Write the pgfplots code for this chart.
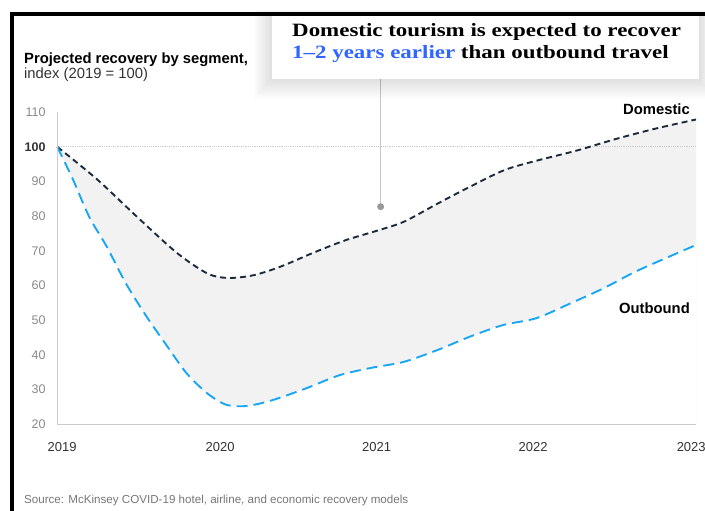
\documentclass[border=0pt]{standalone}
\usepackage{pgfplots}
\pgfplotsset{compat=1.18}
\usepackage{fontspec}
\setmainfont{Liberation Sans}
\newfontfamily\annfont[FakeStretch=1.22]{Liberation Serif}
\definecolor{domcol}{HTML}{1C2B3C}
\definecolor{outcol}{HTML}{19A7F5}
\definecolor{fillcol}{HTML}{F2F2F2}
\definecolor{axcol}{HTML}{CCCCCC}
\definecolor{tickgray}{HTML}{8A8A8A}
\definecolor{labdark}{HTML}{333333}
\definecolor{annblue}{HTML}{2F66FF}
\definecolor{srcgray}{HTML}{777777}

\pgfplotstableread{
x y
2019 100
2019.25 90.6
2019.5 79.8
2019.75 69.4
2019.94 63.5
2020.07 62.2
2020.23 63.0
2020.4 65.5
2020.6 69.4
2020.8 73.0
2021.0 75.8
2021.17 78.4
2021.38 83.6
2021.58 88.4
2021.8 93.3
2022.0 96.0
2022.25 98.9
2022.5 102.3
2022.75 105.3
2023 107.9
}\domtab

\pgfplotstableread{
x y
2019 100
2019.1 90.4
2019.2 79.8
2019.31 71.2
2019.43 60.6
2019.56 51.0
2019.69 42.4
2019.81 34.7
2019.94 28.9
2020.06 25.6
2020.19 25.3
2020.35 27.0
2020.56 30.4
2020.77 34.2
2020.98 36.4
2021.17 38.0
2021.38 41.4
2021.58 45.2
2021.79 48.6
2022.0 50.6
2022.21 54.8
2022.42 59.2
2022.62 64.0
2022.83 68.3
2023 71.7
}\outtab

\begin{document}
\begin{tikzpicture}[x=1pt,y=1pt]
\fill[white] (0,0) rectangle (705,511);

% frame
\fill[black] (10,0) rectangle (14,499);
\fill[black] (10,495) rectangle (705,499);

% title
\node[anchor=base west, inner sep=0pt, font=\fontsize{14.8}{16}\selectfont\bfseries, text=black] at (24,447.7) {Projected recovery by segment,};
\node[anchor=base west, inner sep=0pt, font=\fontsize{14.8}{16}\selectfont, text=labdark] at (24,432) {index (2019 = 100)};

\begin{axis}[
  at={(57.3pt,86.7pt)}, anchor=south west,
  scale only axis, width=638.7pt, height=312.1pt,
  xmin=2019, xmax=2023, ymin=20, ymax=110,
  axis on top,
  axis lines*=left,
  axis line style={-, draw=axcol, line width=1.2pt},
  major tick length=0pt,
  xtick={2019.03,2020.02,2021.0,2021.98,2022.97},
  xticklabels={2019,2020,2021,2022,2023},
  ytick={20,30,40,50,60,70,80,90,100,110},
  yticklabels={20,30,40,50,60,70,80,90,{\textcolor{labdark}{\bfseries 100}},110},
  /pgf/number format/assume math mode=true,
  xticklabel style={font=\fontsize{13}{13}\selectfont, text=labdark, anchor=base, inner sep=0pt, yshift=-27.7pt},
  yticklabel style={font=\fontsize{12.5}{13}\selectfont, text=tickgray, anchor=east, inner sep=0pt, xshift=-11.5pt},
  clip=false,
]
\addplot[fill=fillcol, draw=none, smooth, forget plot] table[x=x,y=y] {\domtab} \closedcycle;
\addplot[fill=white, draw=none, smooth, forget plot] table[x=x,y=y] {\outtab} \closedcycle;
\addplot[forget plot, draw=axcol, line width=0.8pt, densely dotted] coordinates {(2019,100) (2023,100)};
\addplot[draw=domcol, line width=1.9pt, dash pattern=on 6pt off 4pt, smooth] table[x=x,y=y] {\domtab};
\addplot[draw=outcol, line width=1.9pt, dash pattern=on 11pt off 6pt, smooth] table[x=x,y=y] {\outtab};
\draw[draw=black!22, line width=1.2pt] (axis cs:2021.025,82.75) -- (axis cs:2021.025,120);
\fill[black!40] (axis cs:2021.025,82.75) circle[radius=3.5pt];
\end{axis}

% series labels
\node[anchor=base east, inner sep=0pt, font=\fontsize{14.8}{16}\selectfont\bfseries] at (690,396.4) {Domestic};
\node[anchor=base east, inner sep=0pt, font=\fontsize{14.8}{16}\selectfont\bfseries] at (690,197.4) {Outbound};

% annotation box with soft shadow
\foreach \i in {1,...,10} {
  \fill[black, opacity=0.012] (271.7-\i*1.8, 432-\i*2.0) rectangle (699+\i*1.6, 496+\i*0.5);
}
\fill[white] (271.7,432) rectangle (699,495);
\node[anchor=base west, inner sep=0pt, font=\annfont\fontsize{18.8}{20}\selectfont\bfseries] at (292,474.3) {Domestic tourism is expected to recover};
\node[anchor=base west, inner sep=0pt, font=\annfont\fontsize{18.8}{20}\selectfont\bfseries] at (292,452) {\textcolor{annblue}{1–2 years earlier} than outbound travel};

% source
\node[anchor=base west, inner sep=0pt, font=\fontsize{11.6}{12}\selectfont, text=srcgray] at (24,7) {Source: McKinsey COVID-19 hotel, airline, and economic recovery models};

\pgfresetboundingbox
\path (0,0) rectangle (705,511);
\end{tikzpicture}
\end{document}
